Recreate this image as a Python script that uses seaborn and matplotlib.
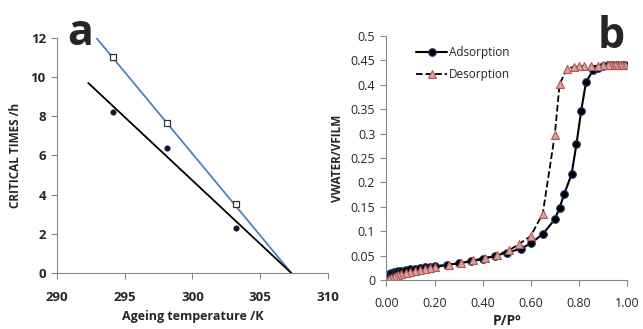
import matplotlib
matplotlib.use("Agg")
import matplotlib.pyplot as plt
import seaborn as sns
import pandas as pd

# ---- Panel a data ----
temp_pts = [294.1, 298.1, 303.2]
crit_open = [11.0, 7.65, 3.5]
crit_filled = [8.2, 6.4, 2.3]
fit_open_x = [292.9, 307.3]
fit_open_y = [12.0, 0.0]
fit_filled_x = [292.3, 307.3]
fit_filled_y = [9.7, 0.0]

# ---- Panel b data ----
ads_x = [0.00, 0.01, 0.02, 0.03, 0.04, 0.05, 0.06, 0.08, 0.10, 0.12, 0.14, 0.16, 0.18,
         0.20, 0.25, 0.30, 0.35, 0.40, 0.45, 0.50, 0.56, 0.60, 0.65, 0.70, 0.72, 0.74,
         0.77, 0.79, 0.81, 0.83, 0.86, 0.88, 0.90, 0.92, 0.94, 0.96, 0.98, 0.99]
ads_y = [0.010, 0.013, 0.015, 0.016, 0.017, 0.018, 0.019, 0.021, 0.022, 0.023, 0.024, 0.026,
         0.027, 0.028, 0.031, 0.034, 0.038, 0.043, 0.049, 0.056, 0.064, 0.075, 0.094, 0.124,
         0.148, 0.177, 0.217, 0.278, 0.347, 0.406, 0.430, 0.435, 0.438, 0.440, 0.440, 0.441,
         0.441, 0.441]
des_x = [0.99, 0.98, 0.97, 0.96, 0.95, 0.94, 0.93, 0.92, 0.90, 0.88, 0.85, 0.82, 0.80,
         0.78, 0.75, 0.72, 0.70, 0.65, 0.60, 0.55, 0.51, 0.46, 0.41, 0.36, 0.31, 0.26,
         0.20, 0.18, 0.16, 0.14, 0.12, 0.10, 0.08, 0.06, 0.05, 0.04, 0.03, 0.02, 0.01, 0.00]
des_y = [0.440, 0.440, 0.440, 0.440, 0.440, 0.440, 0.440, 0.440, 0.440, 0.439, 0.438, 0.438,
         0.438, 0.437, 0.432, 0.401, 0.297, 0.136, 0.090, 0.073, 0.061, 0.051, 0.045, 0.040,
         0.035, 0.031, 0.026, 0.024, 0.022, 0.020, 0.018, 0.016, 0.014, 0.012, 0.010, 0.008,
         0.006, 0.004, 0.002, 0.000]

sns.set_style("white")
plt.rcParams['font.family'] = ['Open Sans', 'DejaVu Sans']

fig = plt.figure(figsize=(6.43, 3.29), dpi=100)
axa = fig.add_axes([0.0887, 0.170, 0.4213, 0.715])
axb = fig.add_axes([0.601, 0.149, 0.374, 0.742])

# ---- Panel a ----
sns.lineplot(x=fit_open_x, y=fit_open_y, ax=axa, color='#4f81bd', lw=1.3)
sns.lineplot(x=fit_filled_x, y=fit_filled_y, ax=axa, color='black', lw=1.3)
sns.scatterplot(x=temp_pts, y=crit_open, ax=axa, marker='s', s=20, facecolor='white',
                edgecolor='#333333', linewidth=0.9, zorder=5)
sns.scatterplot(x=temp_pts, y=crit_filled, ax=axa, marker='o', s=16, color='#0d1a33',
                edgecolor='#0d1a33', zorder=5)
axa.set_xlim(290, 310)
axa.set_ylim(0, 12)
axa.set_xticks([290, 295, 300, 305, 310])
axa.set_yticks([0, 2, 4, 6, 8, 10, 12])
for lab in axa.get_xticklabels() + axa.get_yticklabels():
    lab.set_fontweight('bold')
axa.tick_params(axis='y', labelsize=9.5, length=4, width=0.8, color='#888888',
                direction='out', left=True, pad=4)
axa.tick_params(axis='x', labelsize=9.5, length=4, width=0.8, color='#888888',
                direction='out', bottom=True, pad=9)
axa.set_xlabel('Ageing temperature /K', fontsize=9, fontweight='bold', labelpad=4)
axa.set_ylabel('CRITICAL TIMES /h', fontsize=8.5, fontweight='bold', labelpad=6)
for s in ['top', 'right']:
    axa.spines[s].set_visible(False)
for s in ['left', 'bottom']:
    axa.spines[s].set_color('#888888')
    axa.spines[s].set_linewidth(0.8)
fig.text(0.105, 0.862, 'a', fontsize=31, fontweight='bold')

# ---- Panel b ----
sns.lineplot(x=ads_x, y=ads_y, ax=axb, color='black', lw=1.5, marker='o', markersize=5.5,
             markerfacecolor='black', markeredgecolor='#1f3864', sort=False,
             label='Adsorption')
sns.lineplot(x=des_x, y=des_y, ax=axb, color='black', lw=1.3, linestyle='--', dashes=(3, 2),
             marker='^', markersize=6, markerfacecolor='#c4a9a9', markeredgecolor='#c0504d',
             markeredgewidth=0.8, sort=False, label='Desorption')
axb.set_xlim(0, 1.0)
axb.set_ylim(0, 0.5)
axb.set_xticks([0, 0.2, 0.4, 0.6, 0.8, 1.0])
axb.set_xticklabels(['0.00', '0.20', '0.40', '0.60', '0.80', '1.00'])
yt = [0, 0.05, 0.1, 0.15, 0.2, 0.25, 0.3, 0.35, 0.4, 0.45, 0.5]
axb.set_yticks(yt)
axb.set_yticklabels(['0', '0.05', '0.1', '0.15', '0.2', '0.25', '0.3', '0.35', '0.4', '0.45', '0.5'])
axb.tick_params(axis='y', labelsize=9, length=4, width=0.8, color='#888888', direction='out',
                left=True, pad=4)
axb.tick_params(axis='x', labelsize=9, length=4, width=0.8, color='#888888', direction='out',
                bottom=True, pad=8)
axb.set_xlabel('P/Pº', fontsize=10, fontweight='bold', labelpad=3)
axb.set_ylabel('VWATER/VFILM', fontsize=8.5, fontweight='bold', labelpad=5)
for s in ['top', 'right']:
    axb.spines[s].set_visible(False)
for s in ['left', 'bottom']:
    axb.spines[s].set_color('#888888')
    axb.spines[s].set_linewidth(0.8)
leg = axb.legend(loc='upper left', bbox_to_anchor=(0.08, 1.0), frameon=False, fontsize=8.5,
                 handlelength=2.6, handletextpad=0.2, labelspacing=0.75, borderaxespad=0.5)
fig.text(0.93, 0.855, 'b', fontsize=31, fontweight='bold')

fig.savefig('out.png', dpi=100)
